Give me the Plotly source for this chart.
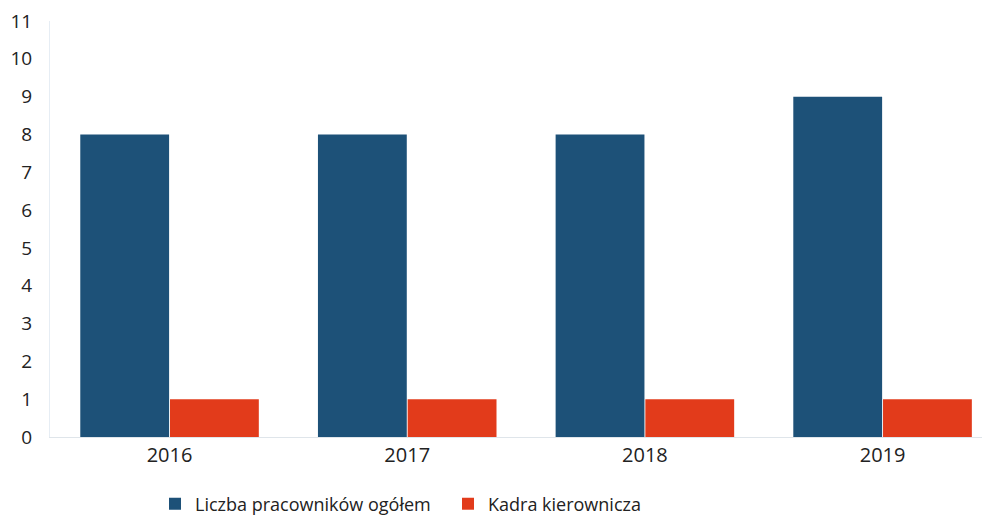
import plotly.graph_objects as go

years = ["2016", "2017", "2018", "2019"]
employees_total = [8, 8, 8, 9]
management = [1, 1, 1, 1]
y_ticks = list(range(0, 12))

blue = "#1d5178"
red = "#e23b1b"

fig = go.Figure()
fig.add_trace(go.Bar(name="Liczba pracowników ogółem", x=years, y=employees_total,
                     marker=dict(color=blue, line=dict(width=0))))
fig.add_trace(go.Bar(name="Kadra kierownicza", x=years, y=management,
                     marker=dict(color=red, line=dict(width=0))))

# page has an 8px body margin, so the figure is sized to fill the rest of the window
fig.update_layout(
    width=982, height=509,
    margin=dict(l=42, r=0, t=13, b=80, autoexpand=False),
    paper_bgcolor="white", plot_bgcolor="white",
    barmode="group", bargap=0.245, bargroupgap=0.01,
    font=dict(family="Open Sans", size=20, color="#222222"),
    showlegend=True,
    legend=dict(orientation="h", xref="container", yref="container",
                x=0.1497, xanchor="left", y=0.0255, yanchor="middle",
                font=dict(size=18), itemwidth=30, entrywidth=248,
                traceorder="normal"),
    xaxis=dict(type="category", range=[-0.503, 3.452], showgrid=False, automargin=False,
               showline=True, linecolor="#dfe5ea", linewidth=1,
               ticks="", tickfont=dict(size=20)),
    yaxis=dict(range=[0, 11], tickvals=y_ticks, showgrid=False, zeroline=False,
               automargin=False, ticklabeloverflow="allow",
               showline=True, linecolor="#e6edf4", linewidth=1,
               ticks="", ticklabelstandoff=13, tickfont=dict(size=19)),
)

fig.write_html("out.html")
